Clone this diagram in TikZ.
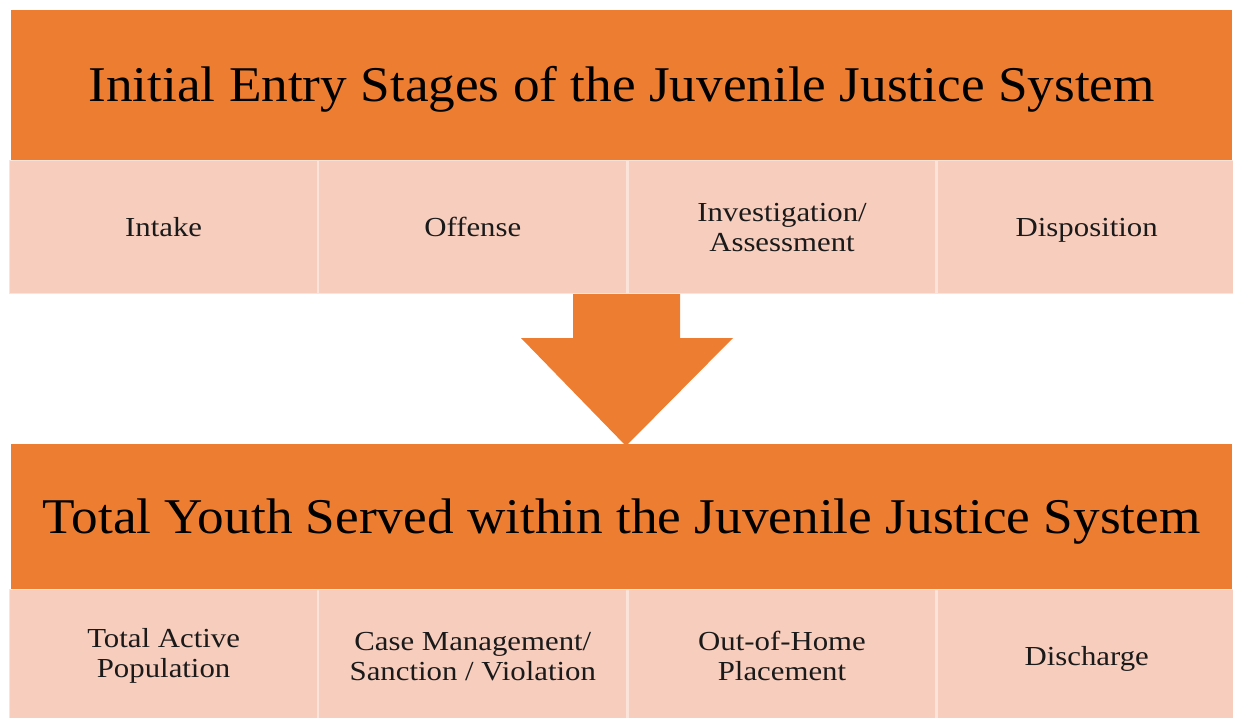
\documentclass[tikz,border=0pt]{standalone}
\usepackage{fontspec}
\setmainfont{Liberation Serif}
\newfontfamily\titlefont[FakeStretch=1.065]{Liberation Serif}
\newfontfamily\cellfont[FakeStretch=1.12]{Liberation Serif}
\usetikzlibrary{positioning}
\definecolor{jjorange}{HTML}{ED7D31}
\definecolor{jjpeach}{HTML}{F7CDBD}
\definecolor{jjline}{HTML}{FBE3D9}
\definecolor{jjtext}{HTML}{1A1A1A}

\tikzset{
  header/.style={fill=jjorange, inner sep=0pt, minimum height=150pt, minimum width=1221pt, text height=33pt, text depth=0pt, font=\titlefont\fontsize{50}{56}\selectfont},
  stagecell/.style={fill=jjpeach, draw=jjline, line width=1.2pt, inner sep=0pt, minimum width=308pt, minimum height=133pt, align=center, text=jjtext, font=\cellfont\fontsize{27.5}{30}\selectfont},
  oneline/.style={text height=19pt, text depth=0pt}
}

\begin{document}
\begin{tikzpicture}[x=1pt,y=-1pt]

\useasboundingbox (0,0) rectangle (1233,717);

% top block
\node [header, anchor=north west] (entry) at (11,10) {Initial Entry Stages of the Juvenile Justice System};

\node [stagecell, oneline, anchor=north west] (intake) at (9,160) {Intake};

\node [stagecell, oneline, right=0pt of intake] (offense) {Offense};

\node [stagecell, right=0pt of offense] (invest) {Investigation/\\Assessment};

\node [stagecell, oneline, right=0pt of invest, minimum width=299pt] (dispo) {Disposition};

% bottom block
\node [header, minimum height=145pt, anchor=north west] (served) at (11,444) {Total Youth Served within the Juvenile Justice System};

\node [stagecell, anchor=north west] (active) at (9,589) {Total Active\\Population};

\node [stagecell, right=0pt of active] (casemgmt) {Case Management/\\Sanction / Violation};

\node [stagecell, right=0pt of casemgmt] (placement) {Out-of-Home\\Placement};

\node [stagecell, oneline, right=0pt of placement, minimum width=299pt] (discharge) {Discharge};

% arrow between the blocks
\fill[jjorange] (573,294) -- (680,294) -- (680,338) -- (733,338) -- (626,446) -- (521,338) -- (573,338) -- cycle;

\end{tikzpicture}
\end{document}
